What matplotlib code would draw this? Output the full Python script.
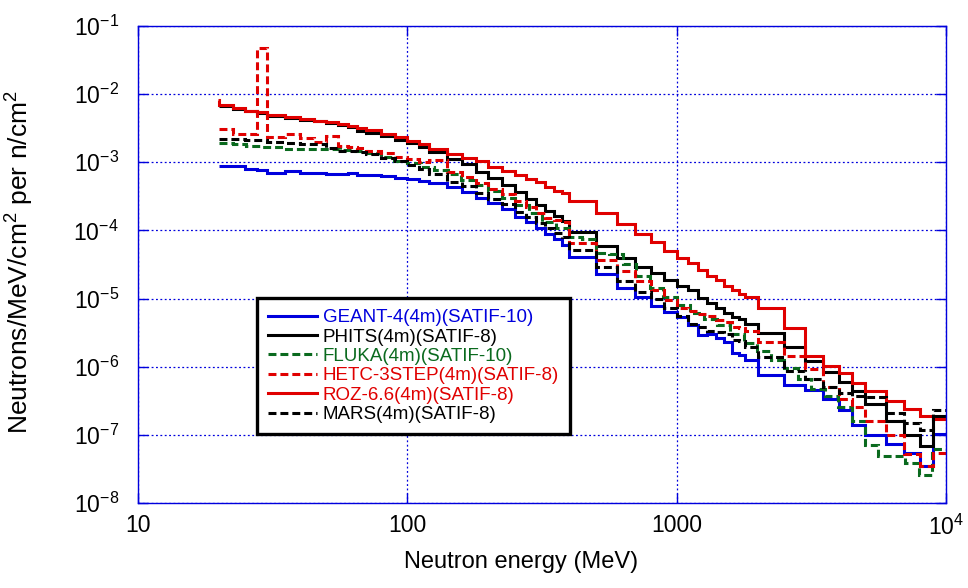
import numpy as np
import matplotlib
matplotlib.use("Agg")
import matplotlib.pyplot as plt

plt.rcParams['font.family'] = ['Liberation Sans', 'DejaVu Sans']
plt.rcParams['mathtext.fontset'] = 'custom'
plt.rcParams['mathtext.rm'] = 'Liberation Sans'
plt.rcParams['mathtext.it'] = 'Liberation Sans'
plt.rcParams['mathtext.default'] = 'regular'

# bin edges (MeV) shared by most codes
edges = [20, 22.5, 25, 27.5, 30, 35, 40, 45, 50, 55, 60, 65, 70, 80, 90, 100,
         110, 120, 140, 160, 180, 200, 225, 250, 275, 300, 325, 350, 375, 400,
         500, 600, 700, 800, 900, 1000, 1100, 1200, 1300, 1400, 1500, 1600,
         1700, 1800, 2000, 2500, 3000, 3500, 4000, 4500, 5000, 6000, 7000,
         8000, 9000, 10000]

# ROZ has an extra narrow bin just below 20 MeV
edges_roz = [19.7] + edges

# FLUKA uses 20 bins per decade
edges_fluka = [20, 22.4, 25.1, 28.2, 31.6, 35.5, 39.8, 44.7, 50.1, 56.2, 63.1,
               70.8, 79.4, 89.1, 100, 112, 126, 141, 158, 178, 200, 224, 251,
               282, 316, 355, 398, 447, 501, 562, 631, 708, 794, 891, 1000,
               1122, 1259, 1413, 1585, 1778, 1995, 2239, 2512, 2818, 3162,
               3548, 3981, 4467, 5012, 5623, 6310, 7079, 7943, 8913, 10000]

geant = [8.8e-4, 8.8e-4, 8.0e-4, 7.6e-4, 7.0e-4, 7.4e-4, 7.0e-4, 7.0e-4, 6.7e-4,
         6.7e-4, 6.9e-4, 6.5e-4, 6.5e-4, 6.2e-4, 5.85e-4, 5.6e-4, 5.25e-4,
         4.95e-4, 4.28e-4, 3.66e-4, 3.02e-4, 2.52e-4, 2.06e-4, 1.59e-4,
         1.34e-4, 1.07e-4, 8.9e-5, 7.5e-5, 6.1e-5, 4.1e-5, 2.3e-5, 1.42e-5,
         1.07e-5, 7.9e-6, 6.4e-6, 5.4e-6, 4.1e-6, 2.96e-6, 3.0e-6, 2.62e-6,
         2.33e-6, 1.6e-6, 1.5e-6, 1.25e-6, 7.6e-7, 5.5e-7, 4.57e-7, 3.37e-7,
         2.33e-7, 1.39e-7, 9.9e-8, 7.4e-8, 5.4e-8, 3.55e-8, 1.03e-7]

phits = [6.7e-3, 6.0e-3, 5.55e-3, 5.25e-3, 4.8e-3, 4.5e-3, 4.2e-3, 4.0e-3,
         3.76e-3, 3.55e-3, 3.3e-3, 2.9e-3, 2.71e-3, 2.42e-3, 2.12e-3, 1.89e-3,
         1.65e-3, 1.40e-3, 1.10e-3, 9.3e-4, 7.3e-4, 5.8e-4, 4.6e-4, 3.6e-4,
         2.86e-4, 2.33e-4, 1.95e-4, 1.63e-4, 1.37e-4, 9.4e-5, 5.9e-5, 3.98e-5,
         2.88e-5, 2.35e-5, 1.87e-5, 1.53e-5, 1.34e-5, 1.01e-5, 8.5e-6, 7.2e-6,
         6.2e-6, 5.4e-6, 5.0e-6, 4.3e-6, 3.17e-6, 1.95e-6, 1.2e-6, 8.4e-7,
         6.05e-7, 4.42e-7, 2.85e-7, 1.62e-7, 9.9e-8, 6.9e-8, 1.9e-7]

fluka = [1.89e-3, 1.85e-3, 1.71e-3, 1.65e-3, 1.65e-3, 1.57e-3, 1.56e-3, 1.56e-3,
         1.55e-3, 1.52e-3, 1.46e-3, 1.35e-3, 1.2e-3, 1.05e-3, 9.6e-4, 8.6e-4,
         7.7e-4, 6.7e-4, 5.5e-4, 4.6e-4, 3.8e-4, 2.96e-4, 2.36e-4, 1.78e-4,
         1.34e-4, 1.07e-4, 8.0e-5, 7.4e-5, 4.7e-5, 4.5e-5, 3.2e-5, 2.14e-5,
         1.42e-5, 1.07e-5, 8.1e-6, 6.1e-6, 5.1e-6, 4.1e-6, 3.0e-6, 2.2e-6,
         1.7e-6, 1.25e-6, 9.5e-7, 6.6e-7, 4.7e-7, 3.7e-7, 2.6e-7, 1.6e-7,
         7.1e-8, 4.9e-8, 4.9e-8, 3.85e-8, 2.6e-8, 6.2e-8]

hetc = [3.04e-3, 2.59e-3, 2.59e-3, 4.8e-2, 2.33e-3, 2.57e-3, 2.24e-3, 1.96e-3,
        2.4e-3, 1.75e-3, 1.67e-3, 1.6e-3, 1.46e-3, 1.35e-3, 1.18e-3, 1.1e-3,
        1.02e-3, 1.08e-3, 7.3e-4, 6.0e-4, 5.0e-4, 4.1e-4, 3.4e-4, 2.7e-4,
        2.2e-4, 1.78e-4, 1.5e-4, 1.42e-4, 1.35e-4, 6.6e-5, 3.7e-5, 2.56e-5,
        1.84e-5, 1.34e-5, 9.5e-6, 7.3e-6, 6.5e-6, 6.0e-6, 5.5e-6, 4.85e-6,
        4.6e-6, 3.9e-6, 3.7e-6, 3.3e-6, 2.3e-6, 1.42e-6, 9.2e-7, 5.0e-7,
        3.33e-7, 2.6e-7, 1.6e-7, 9.9e-8, 5.2e-8, 3.55e-8, 5.4e-8]

roz = [8.2e-3, 6.9e-3, 6.15e-3, 5.7e-3, 5.4e-3, 4.97e-3, 4.6e-3, 4.35e-3,
       4.06e-3, 3.88e-3, 3.63e-3, 3.43e-3, 3.2e-3, 2.94e-3, 2.59e-3, 2.34e-3,
       2.05e-3, 1.83e-3, 1.56e-3, 1.31e-3, 1.16e-3, 1.04e-3, 8.4e-4, 7.4e-4,
       6.5e-4, 5.7e-4, 5.06e-4, 4.4e-4, 3.82e-4, 3.53e-4, 2.7e-4, 1.78e-4,
       1.24e-4, 8.95e-5, 6.7e-5, 5.0e-5, 3.94e-5, 3.3e-5, 2.63e-5, 2.14e-5,
       1.87e-5, 1.55e-5, 1.34e-5, 1.17e-5, 1.07e-5, 7.2e-6, 3.7e-6, 1.44e-6,
       1.03e-6, 8.0e-7, 5.85e-7, 4.46e-7, 3.18e-7, 2.38e-7, 1.9e-7, 1.72e-7]

mars = [2.22e-3, 2.2e-3, 2.12e-3, 2.12e-3, 1.96e-3, 1.9e-3, 1.83e-3, 1.83e-3,
        1.6e-3, 1.48e-3, 1.48e-3, 1.4e-3, 1.3e-3, 1.14e-3, 1.04e-3, 9.1e-4,
        7.9e-4, 6.7e-4, 5.2e-4, 4.5e-4, 3.5e-4, 2.86e-4, 2.44e-4, 1.84e-4,
        1.55e-4, 1.3e-4, 1.09e-4, 9.1e-5, 8.0e-5, 5.2e-5, 2.88e-5, 1.84e-5,
        1.25e-5, 1.0e-5, 7.2e-6, 5.5e-6, 4.2e-6, 3.8e-6, 3.4e-6, 3.2e-6,
        3.0e-6, 2.5e-6, 2.4e-6, 1.97e-6, 1.37e-6, 8.8e-7, 6.6e-7, 5.0e-7,
        4.2e-7, 3.7e-7, 3.6e-7, 2.1e-7, 1.5e-7, 1.2e-7, 2.3e-7]

labels = ['GEANT-4(4m)(SATIF-10)', 'PHITS(4m)(SATIF-8)', 'FLUKA(4m)(SATIF-10)',
          'HETC-3STEP(4m)(SATIF-8)', 'ROZ-6.6(4m)(SATIF-8)', 'MARS(4m)(SATIF-8)']

xticks = [10, 100, 1000, 10000]
xticklabels = ['10', '100', '1000', '$10^4$']
yticks = [1e-8, 1e-7, 1e-6, 1e-5, 1e-4, 1e-3, 1e-2, 1e-1]
yticklabels = ['$10^{-8}$', '$10^{-7}$', '$10^{-6}$', '$10^{-5}$',
               '$10^{-4}$', '$10^{-3}$', '$10^{-2}$', '$10^{-1}$']

BLUE = '#0000dd'
RED = '#e00000'
GREEN = '#0a6a1e'
dash = (0, (2.6, 1.3))

fig = plt.figure(figsize=(9.68, 5.88), dpi=100)
ax = fig.add_axes([0.1429, 0.1442, 0.8341, 0.8119])

series = [
    (geant, edges, BLUE, '-'),
    (phits, edges, 'black', '-'),
    (fluka, edges_fluka, GREEN, dash),
    (hetc, edges, RED, dash),
    (roz, edges_roz, RED, '-'),
    (mars, edges, 'black', dash),
]
for (vals, ed, col, ls), lab in zip(series, labels):
    ax.stairs(vals, ed, baseline=None, color=col, linestyle=ls, lw=2.2,
              label=lab)

ax.set_xscale('log')
ax.set_yscale('log')
ax.set_xlim(10, 1e4)
ax.set_ylim(1e-8, 1e-1)
ax.set_xticks(xticks, labels=xticklabels)
ax.set_yticks(yticks, labels=yticklabels)
ax.xaxis.set_minor_locator(matplotlib.ticker.NullLocator())
ax.yaxis.set_minor_locator(matplotlib.ticker.NullLocator())
ax.tick_params(which='both', direction='in', top=True, right=True,
               length=7, width=1, color=BLUE, labelsize=16.5)
ax.tick_params(axis='x', pad=8)
ax.tick_params(axis='y', pad=14)
for sp in ax.spines.values():
    sp.set_color(BLUE)
    sp.set_linewidth(1.0)
ax.grid(True, color=BLUE, linestyle=(0, (1.5, 2)), lw=0.9)
ax.set_axisbelow(True)

ax.set_xlabel('Neutron energy (MeV)', fontsize=17)
ax.xaxis.set_label_coords(0.474, -0.10)
ax.set_ylabel('Neutrons/MeV/cm$^2$ per n/cm$^2$', fontsize=19)
ax.yaxis.set_label_coords(-0.127, 0.505)

leg = ax.legend(loc='upper left', bbox_to_anchor=(0.147, 0.43),
                borderaxespad=0, fontsize=13.5, fancybox=False, framealpha=1,
                edgecolor='black', handlelength=2.6, handletextpad=0.3,
                labelspacing=0.12, borderpad=0.6)
leg.get_frame().set_linewidth(2.4)
for txt, (vals, ed, col, ls) in zip(leg.get_texts(), series):
    txt.set_color(col)

fig.savefig('out.png', dpi=100)
